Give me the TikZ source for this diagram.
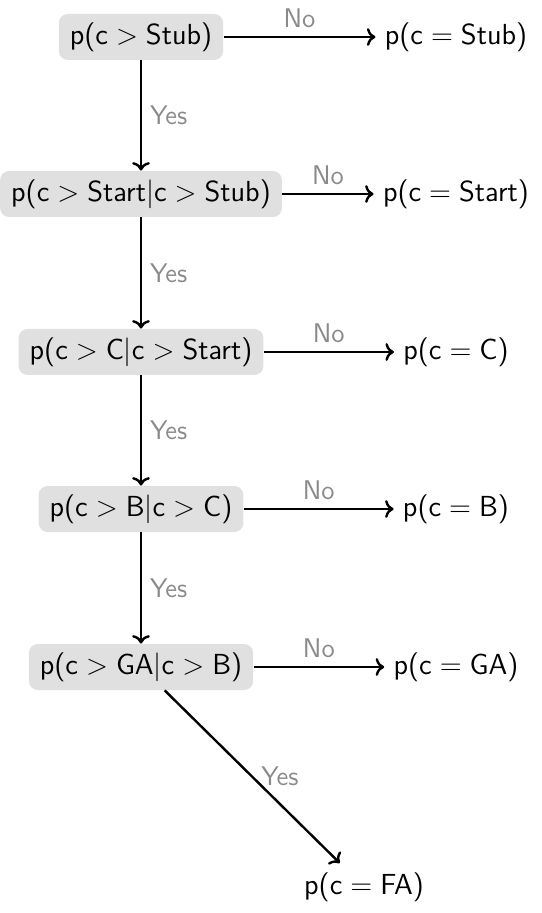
\documentclass[tikz,border=0pt]{standalone}
\usetikzlibrary{arrows.meta}
\definecolor{boxgray}{HTML}{E0E0E0}
\definecolor{labgray}{HTML}{8A8A8A}
\tikzset{
  qbox/.style={fill=boxgray, rounded corners=4.5pt, inner xsep=5.5pt, minimum height=23pt, font=\fontsize{14.5}{17}\selectfont\sffamily},
  outc/.style={inner sep=4.5pt, font=\fontsize{14.5}{17}\selectfont\sffamily},
  conn/.style={line width=1.2pt, ->},
  lab/.style={text=labgray, font=\fontsize{13.5}{16}\selectfont\sffamily, inner sep=4pt}
}
\newcommand{\gtr}{${}>{}$}
\newcommand{\eqq}{${}={}$}
\newcommand{\barr}{$|$}
\begin{document}
\begin{tikzpicture}[x=0.5pt,y=-0.5pt]
\useasboundingbox (0,0) rectangle (541,913);
\node[qbox] (n1) at (141,37) {p(c\gtr Stub)};
\node[qbox] (n2) at (141,194) {p(c\gtr Start\barr c\gtr Stub)};
\node[qbox] (n3) at (141,352) {p(c\gtr C\barr c\gtr Start)};
\node[qbox] (n4) at (141,509) {p(c\gtr B\barr c\gtr C)};
\node[qbox] (n5) at (141,667) {p(c\gtr GA\barr c\gtr B)};
\node[outc] (o1) at (456,37) {p(c\eqq Stub)};
\node[outc] (o2) at (456,194) {p(c\eqq Start)};
\node[outc] (o3) at (456,352) {p(c\eqq C)};
\node[outc] (o4) at (456,509) {p(c\eqq B)};
\node[outc] (o5) at (456,667) {p(c\eqq GA)};
\node[outc] (fa) at (364,887) {p(c\eqq FA)};
\draw[conn] (n1) -- node[lab, above] {No} (o1);
\draw[conn] (n2) -- node[lab, above] {No} (o2);
\draw[conn] (n3) -- node[lab, above] {No} (o3);
\draw[conn] (n4) -- node[lab, above] {No} (o4);
\draw[conn] (n5) -- node[lab, above] {No} (o5);
\draw[conn] (n1) -- node[lab, right] {Yes} (n2);
\draw[conn] (n2) -- node[lab, right] {Yes} (n3);
\draw[conn] (n3) -- node[lab, right] {Yes} (n4);
\draw[conn] (n4) -- node[lab, right] {Yes} (n5);
\draw[conn] (n5) -- node[lab, right] {Yes} (fa);
\end{tikzpicture}
\end{document}
